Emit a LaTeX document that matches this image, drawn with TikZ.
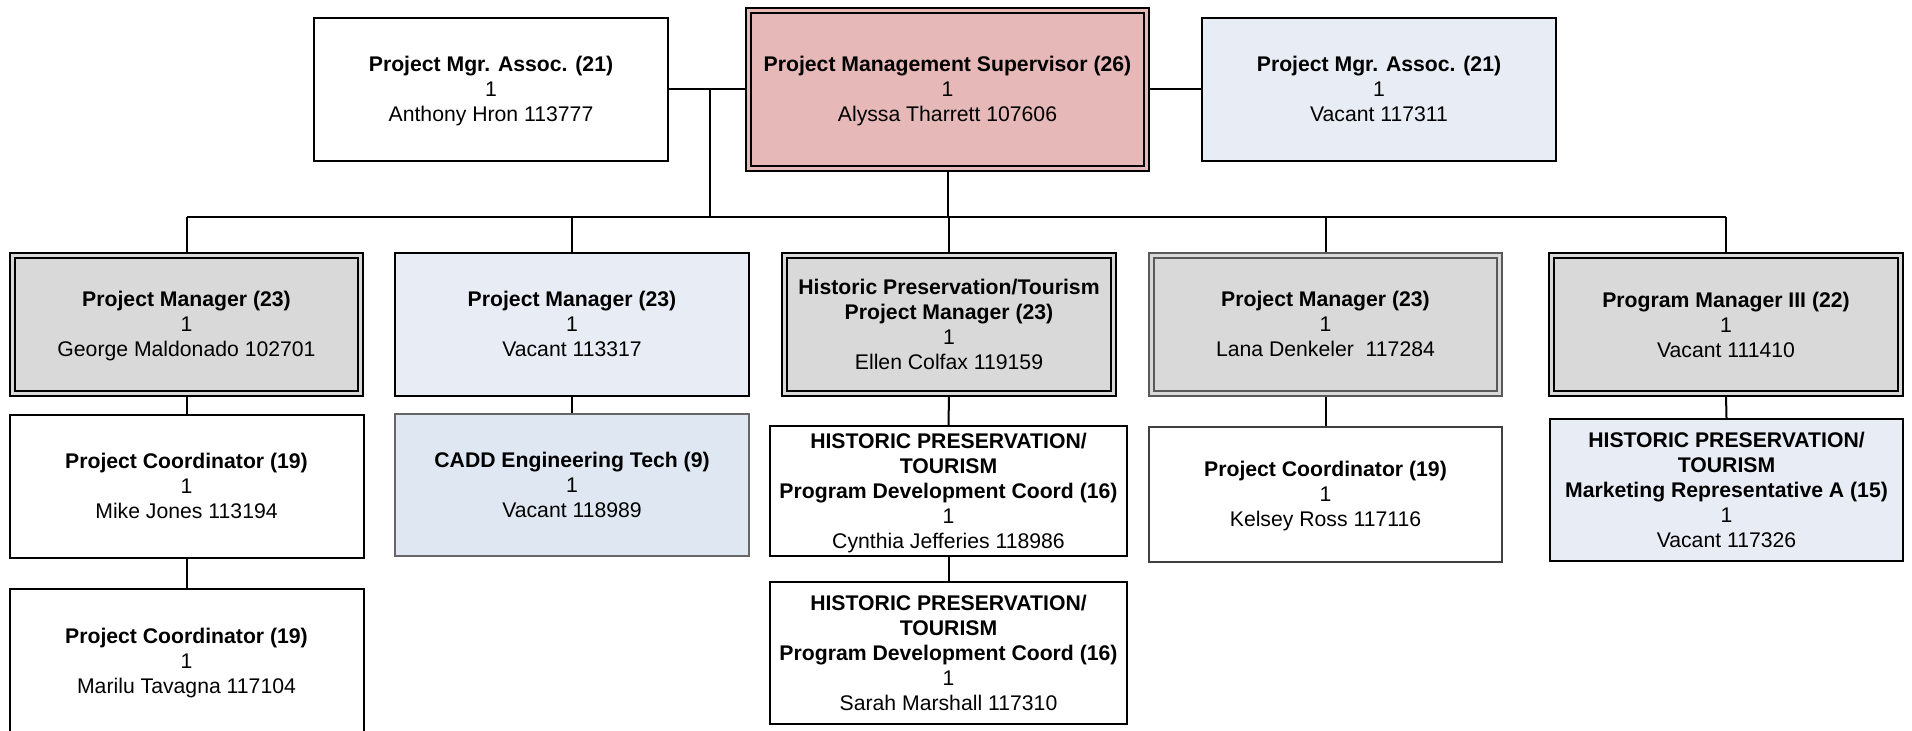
\documentclass[tikz,border=0pt]{standalone}
\usepackage{fontspec}
\setmainfont{Liberation Sans}
\usepackage{xcolor}
\usepackage{tikz}
\usetikzlibrary{backgrounds}

% title, count and holder of one position, struts keep the lines centred
\newcommand{\postext}[2]{\rule{0pt}{11.25pt}#1\\1\\#2\strut}

\begin{document}
\begin{tikzpicture}[x=0.5pt, y=-0.5pt,
    posbox/.style={draw, line width=1pt, fill=white, align=center, inner sep=0pt,
      minimum width=177pt, minimum height=71.5pt,
      font=\fontsize{10.6}{12.5}\selectfont},
    mgrbox/.style={posbox, fill=mgrgray, double=mgrgray, double distance=1.5pt,
      minimum width=174pt, minimum height=69pt},
    vacbox/.style={posbox, fill=vacblue},
    link/.style={line width=1pt}]

  % Define colors for the boxes
  \definecolor{supcolor}{RGB}{230,184,183}   % Pink for the supervisor
  \definecolor{mgrgray}{RGB}{217,217,217}    % Gray for managers
  \definecolor{vacblue}{RGB}{232,237,245}    % Light blue for vacant posts
  \definecolor{caddblue}{RGB}{223,232,242}   % Blue-gray for CADD tech

  \useasboundingbox (0,0) rectangle (1912,731);
  \clip (0,0) rectangle (1912,731);

  % Top row
  \node[posbox] (pmaL) at (491,89.5) {\postext{\textbf{Project Mgr. Assoc. (21)}}{Anthony Hron 113777}};
  \node[mgrbox, fill=supcolor, double=supcolor, minimum width=199pt, minimum height=79pt]
    (sup) at (947.5,89.5) {\postext{\textbf{Project Management Supervisor (26)}}{Alyssa Tharrett 107606}};
  \node[vacbox] (pmaR) at (1379,89.5) {\postext{\textbf{Project Mgr. Assoc. (21)}}{Vacant 117311}};

  % Managers
  \node[mgrbox] (mgr1) at (186.5,324.5) {\postext{\textbf{Project Manager (23)}}{George Maldonado 102701}};
  \node[vacbox] (mgr2) at (572,324.5) {\postext{\textbf{Project Manager (23)}}{Vacant 113317}};
  \node[mgrbox, minimum width=164.5pt] (mgr3) at (949,324.5)
    {\postext{\textbf{Historic Preservation/Tourism}\\\textbf{Project Manager (23)}}{Ellen Colfax 119159}};
  \node[mgrbox, draw=black!65] (mgr4) at (1325.5,324.5) {\postext{\textbf{Project Manager (23)}}{Lana Denkeler\ \ 117284}};
  \node[mgrbox, minimum width=174.5pt] (mgr5) at (1726,325) {\postext{\textbf{Program Manager III (22)}}{Vacant 111410}};

  % Staff under the managers
  \node[posbox] (crd1) at (186.5,486.5) {\postext{\textbf{Project Coordinator (19)}}{Mike Jones 113194}};
  \node[posbox] (crd1b) at (186.5,661) {\postext{\textbf{Project Coordinator (19)}}{Marilu Tavagna 117104}};
  \node[posbox, fill=caddblue, draw=black!60, minimum height=71pt] (cadd) at (572,485)
    {\postext{\textbf{CADD Engineering Tech (9)}}{Vacant 118989}};
  \node[posbox, minimum width=178.5pt, minimum height=65pt] (hpc1) at (948.5,491)
    {\postext{\textbf{HISTORIC PRESERVATION/}\\\textbf{TOURISM}\\\textbf{Program Development Coord (16)}}{Cynthia Jefferies 118986}};
  \node[posbox, minimum width=178.5pt, minimum height=71pt] (hpc2) at (948.5,653)
    {\postext{\textbf{HISTORIC PRESERVATION/}\\\textbf{TOURISM}\\\textbf{Program Development Coord (16)}}{Sarah Marshall 117310}};
  \node[posbox, draw=black!75, minimum width=176.5pt, minimum height=67.5pt] (crd4) at (1325.5,494.5)
    {\postext{\textbf{Project Coordinator (19)}}{Kelsey Ross 117116}};
  \node[vacbox, minimum width=176.5pt, minimum height=71pt] (mkt5) at (1726.5,490)
    {\postext{\textbf{HISTORIC PRESERVATION/}\\\textbf{TOURISM}\\\textbf{Marketing Representative A (15)}}{Vacant 117326}};

  % Reporting lines
  \begin{scope}[on background layer]
    \coordinate (tap) at (710,89.5);
    \coordinate (busL) at (186.5,217);
    \coordinate (busR) at (1726,217);
    \draw[link] (pmaL.east) -- (sup.west);
    \draw[link] (sup.east) -- (pmaR.west);
    \draw[link] (tap) -- (tap |- busL);
    \draw[link] (sup.south) -- (sup.south |- busL);
    \draw[link] (busL) -- (busR);
    \foreach \m in {mgr1,mgr2,mgr3,mgr4,mgr5} {
      \draw[link] (\m.north) -- (\m.north |- busL);
    }
    \draw[link] (mgr1.south) -- (crd1.north);
    \draw[link] (crd1.south) -- (crd1b.north);
    \draw[link] (mgr2.south) -- (cadd.north);
    \draw[link] (mgr3.south) -- (hpc1.north);
    \draw[link] (hpc1.south) -- (hpc2.north);
    \draw[link] (mgr4.south) -- (crd4.north);
    \draw[link] (mgr5.south) -- (mkt5.north);
  \end{scope}

\end{tikzpicture}
\end{document}
